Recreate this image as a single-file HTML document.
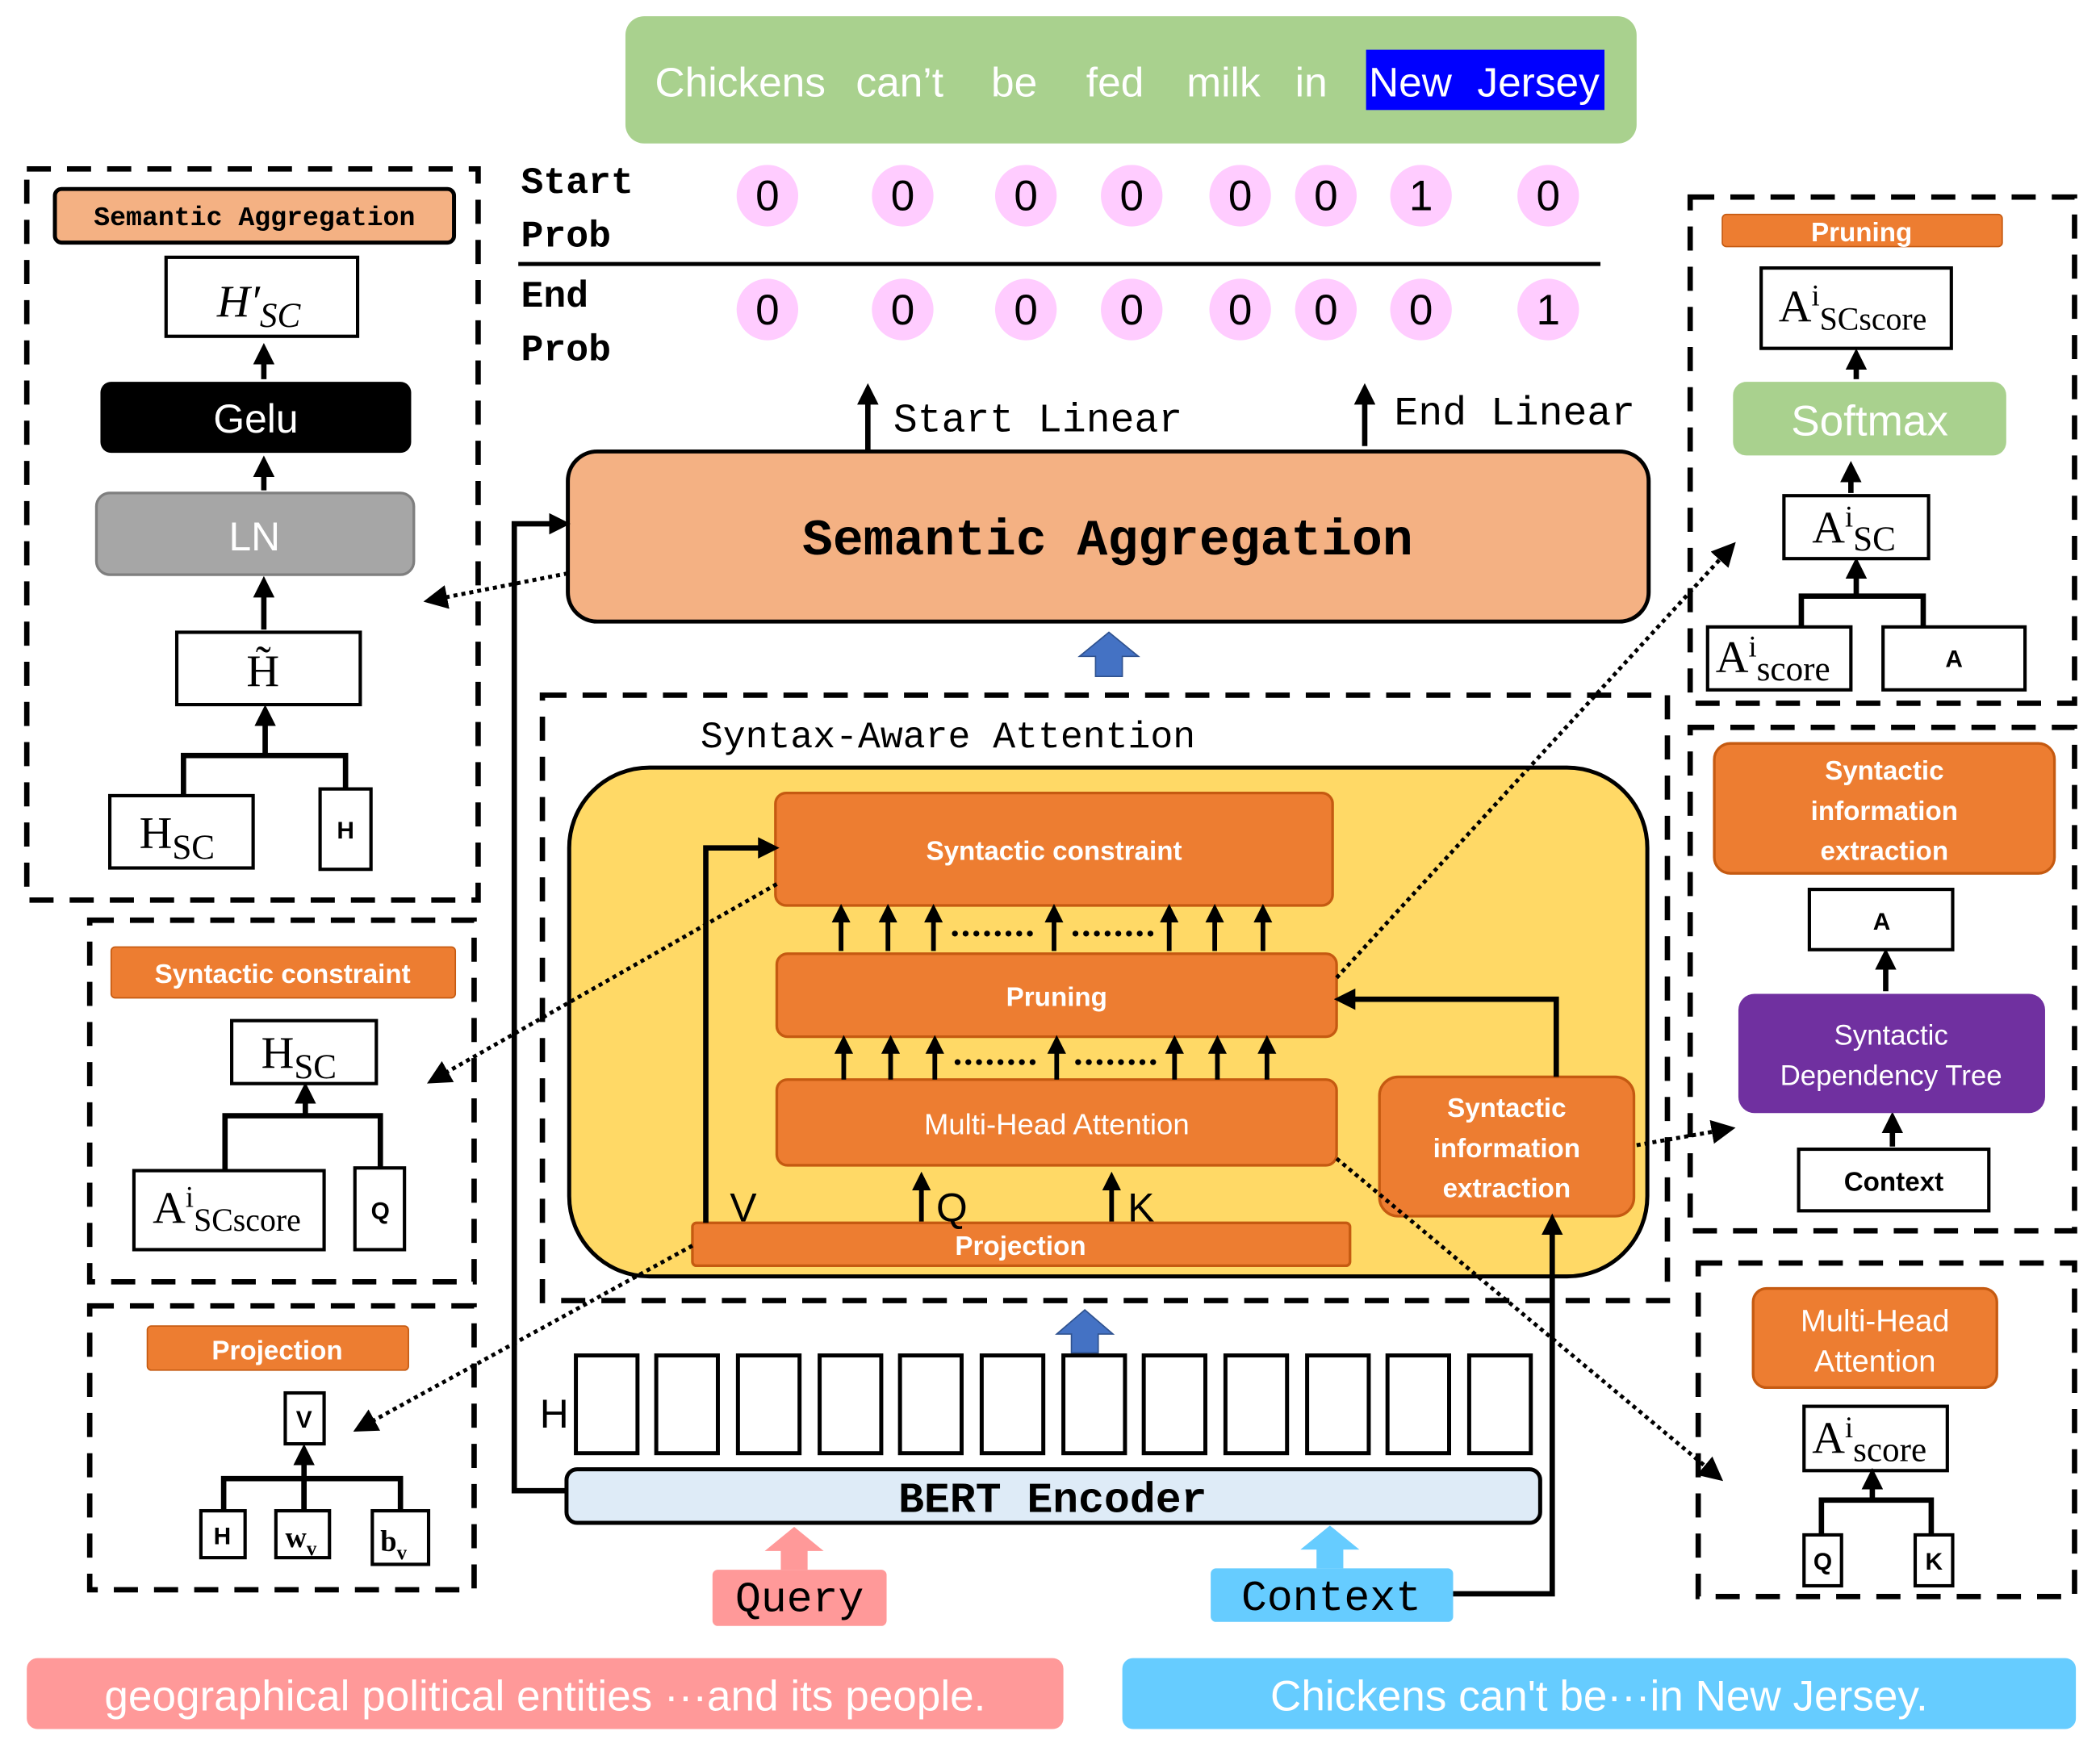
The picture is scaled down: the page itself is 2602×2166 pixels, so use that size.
<!DOCTYPE html>
<html><head><meta charset="utf-8"><style>
html,body{margin:0;padding:0;background:#fff;}
svg{display:block;}
.m{font-family:"Liberation Mono",monospace;}
.s{font-family:"Liberation Sans",sans-serif;}
.r{font-family:"Liberation Serif",serif;}
</style></head><body>
<svg width="2602" height="2166" viewBox="0 0 1568 1305" xmlns="http://www.w3.org/2000/svg">
<defs>
<marker id="a" markerWidth="4" markerHeight="4" refX="2.5" refY="2" orient="auto" markerUnits="strokeWidth"><path d="M0,0 L4,2 L0,4 z" fill="#000"/></marker>
<marker id="d" markerWidth="6" markerHeight="6" refX="4" refY="3" orient="auto" markerUnits="strokeWidth"><path d="M0,0 L6,3 L0,6 z" fill="#000"/></marker>
</defs>
<rect width="1568" height="1305" fill="#fff"/>
<!-- top sentence -->
<rect x="467" y="12" width="755" height="95" rx="14" fill="#a9d18e"/>
<rect x="1020" y="37" width="178" height="45" fill="#0000ff"/>
<g class="s" font-size="31" fill="#fff">
<text x="489" y="72">Chickens</text><text x="639" y="72">can’t</text><text x="740" y="72">be</text><text x="811" y="72">fed</text><text x="886" y="72">milk</text><text x="967" y="72">in</text><text x="1022" y="72">New</text><text x="1103" y="72">Jersey</text>
</g>
<!-- prob rows -->
<g class="m" font-size="28" font-weight="bold">
<text x="389" y="144">Start</text><text x="389" y="184">Prob</text>
<text x="389" y="229">End</text><text x="389" y="269">Prob</text>
</g>
<line x1="387" y1="197" x2="1195" y2="197" stroke="#000" stroke-width="3"/>
<g fill="#ffccff">
<circle cx="573" cy="146" r="23"/><circle cx="674" cy="146" r="23"/><circle cx="766" cy="146" r="23"/><circle cx="845" cy="146" r="23"/><circle cx="926" cy="146" r="23"/><circle cx="990" cy="146" r="23"/><circle cx="1061" cy="146" r="23"/><circle cx="1156" cy="146" r="23"/>
<circle cx="573" cy="231" r="23"/><circle cx="674" cy="231" r="23"/><circle cx="766" cy="231" r="23"/><circle cx="845" cy="231" r="23"/><circle cx="926" cy="231" r="23"/><circle cx="990" cy="231" r="23"/><circle cx="1061" cy="231" r="23"/><circle cx="1156" cy="231" r="23"/>
</g>
<g class="s" font-size="32" text-anchor="middle">
<text x="573" y="157">0</text><text x="674" y="157">0</text><text x="766" y="157">0</text><text x="845" y="157">0</text><text x="926" y="157">0</text><text x="990" y="157">0</text><text x="1061" y="157">1</text><text x="1156" y="157">0</text>
<text x="573" y="242">0</text><text x="674" y="242">0</text><text x="766" y="242">0</text><text x="845" y="242">0</text><text x="926" y="242">0</text><text x="990" y="242">0</text><text x="1061" y="242">0</text><text x="1156" y="242">1</text>
</g>
<line x1="648" y1="336" x2="648" y2="292" stroke="#000" stroke-width="4" marker-end="url(#a)"/>
<text x="667" y="322" class="m" font-size="30">Start Linear</text>
<line x1="1019" y1="333" x2="1019" y2="292" stroke="#000" stroke-width="4" marker-end="url(#a)"/>
<text x="1041" y="317" class="m" font-size="30">End Linear</text>
<!-- semantic aggregation -->
<rect x="424" y="337" width="807" height="127" rx="22" fill="#f4b183" stroke="#000" stroke-width="3"/>
<text x="827" y="414" class="m" font-size="38" font-weight="bold" text-anchor="middle">Semantic Aggregation</text>
<path d="M818,505 V490 H806 L828,472 L850,490 H838 V505 Z" fill="#4472c4" stroke="#2f528f"/>
<!-- syntax aware -->
<rect x="405" y="519" width="840" height="452" fill="none" stroke="#000" stroke-width="4" stroke-dasharray="18,12"/>
<text x="523" y="558" class="m" font-size="28">Syntax-Aware Attention</text>
<rect x="425" y="573" width="805" height="380" rx="60" fill="#ffd966" stroke="#000" stroke-width="3"/>
<g fill="#ed7d31" stroke="#c55a11" stroke-width="2">
<rect x="579" y="592" width="416" height="84" rx="8"/>
<rect x="580" y="712" width="418" height="62" rx="8"/>
<rect x="580" y="806" width="418" height="64" rx="8"/>
<rect x="1030" y="804" width="190" height="104" rx="14"/>
<rect x="517" y="913" width="491" height="32" rx="3"/>
</g>
<g class="s" fill="#fff" text-anchor="middle" font-size="20" font-weight="bold">
<text x="787" y="642">Syntactic constraint</text>
<text x="789" y="751">Pruning</text>
<text x="789" y="847" font-weight="normal" font-size="22">Multi-Head Attention</text>
<text x="1125" y="834">Syntactic</text><text x="1125" y="864">information</text><text x="1125" y="894">extraction</text>
<text x="762" y="937">Projection</text>
</g>
<g stroke="#000" stroke-width="3.5" marker-end="url(#a)">
<line x1="628" y1="710" x2="628" y2="680"/><line x1="663" y1="710" x2="663" y2="680"/><line x1="697" y1="710" x2="697" y2="680"/><line x1="787" y1="710" x2="787" y2="680"/><line x1="873" y1="710" x2="873" y2="680"/><line x1="907" y1="710" x2="907" y2="680"/><line x1="943" y1="710" x2="943" y2="680"/>
<line x1="630" y1="806" x2="630" y2="778"/><line x1="665" y1="806" x2="665" y2="778"/><line x1="698" y1="806" x2="698" y2="778"/><line x1="789" y1="806" x2="789" y2="778"/><line x1="877" y1="806" x2="877" y2="778"/><line x1="909" y1="806" x2="909" y2="778"/><line x1="946" y1="806" x2="946" y2="778"/>
<line x1="688" y1="912" x2="688" y2="880"/><line x1="830" y1="912" x2="830" y2="880"/>
</g>
<g fill="#000">
<g id="dots"><circle cx="713" cy="697" r="2.2"/><circle cx="721" cy="697" r="2.2"/><circle cx="729" cy="697" r="2.2"/><circle cx="737" cy="697" r="2.2"/><circle cx="745" cy="697" r="2.2"/><circle cx="753" cy="697" r="2.2"/><circle cx="761" cy="697" r="2.2"/><circle cx="769" cy="697" r="2.2"/></g>
<use href="#dots" x="90"/><use href="#dots" x="2" y="96"/><use href="#dots" x="92" y="96"/>
</g>
<g class="s" font-size="30"><text x="545" y="912">V</text><text x="699" y="912">Q</text><text x="842" y="912">K</text></g>
<polyline points="527,913 527,633 576,633" fill="none" stroke="#000" stroke-width="4" marker-end="url(#a)"/>
<polyline points="1162,804 1162,746 1002,746" fill="none" stroke="#000" stroke-width="4" marker-end="url(#a)"/>
<polyline points="1085,1190 1159,1190 1159,912" fill="none" stroke="#000" stroke-width="4" marker-end="url(#a)"/>
<polyline points="422,1113 384,1113 384,391 420,391" fill="none" stroke="#000" stroke-width="4" marker-end="url(#a)"/>
<path d="M800,1010 V996 H789 L810,978 L831,996 H820 V1010 Z" fill="#4472c4" stroke="#2f528f"/>
<!-- H boxes -->
<text x="403" y="1066" class="s" font-size="30">H</text>
<g fill="#fff" stroke="#000" stroke-width="3">
<rect x="430" y="1012" width="46" height="73"/><rect x="490" y="1012" width="46" height="73"/><rect x="551" y="1012" width="46" height="73"/><rect x="612" y="1012" width="46" height="73"/><rect x="672" y="1012" width="46" height="73"/><rect x="733" y="1012" width="46" height="73"/><rect x="794" y="1012" width="46" height="73"/><rect x="854" y="1012" width="46" height="73"/><rect x="915" y="1012" width="46" height="73"/><rect x="976" y="1012" width="46" height="73"/><rect x="1036" y="1012" width="46" height="73"/><rect x="1097" y="1012" width="46" height="73"/>
</g>
<rect x="423" y="1097" width="727" height="40" rx="8" fill="#deebf7" stroke="#000" stroke-width="3"/>
<text x="786" y="1129" class="m" font-size="32" font-weight="bold" text-anchor="middle">BERT Encoder</text>
<path d="M583,1172 V1158 H571 L593,1140 L615,1158 H603 V1172 Z" fill="#ff9999"/>
<rect x="532" y="1172" width="130" height="42" rx="4" fill="#ff9999"/>
<text x="597" y="1203" class="m" font-size="32" text-anchor="middle">Query</text>
<path d="M983,1171 V1157 H971 L993,1139 L1015,1157 H1003 V1171 Z" fill="#66ccff"/>
<rect x="904" y="1171" width="181" height="40" rx="4" fill="#66ccff"/>
<text x="994" y="1202" class="m" font-size="32" text-anchor="middle">Context</text>
<rect x="20" y="1238" width="774" height="53" rx="8" fill="#ff9999"/>
<text x="407" y="1277" class="s" font-size="32" fill="#fff" text-anchor="middle">geographical political entities ···and its people.</text>
<rect x="838" y="1238" width="712" height="53" rx="8" fill="#66ccff"/>
<text x="1194" y="1277" class="s" font-size="32" fill="#fff" text-anchor="middle">Chickens can't be···in New Jersey.</text>
<!-- left panels -->
<g fill="none" stroke="#000" stroke-width="4" stroke-dasharray="18,12">
<rect x="20" y="126" width="337" height="546"/>
<rect x="67" y="687" width="287" height="270"/>
<rect x="67" y="975" width="287" height="212"/>
<rect x="1262" y="147" width="287" height="378"/>
<rect x="1262" y="543" width="287" height="376"/>
<rect x="1268" y="943" width="281" height="249"/>
</g>
<rect x="41" y="141" width="298" height="40" rx="5" fill="#f4b183" stroke="#000" stroke-width="3"/>
<text x="190" y="168" class="m" font-size="20" font-weight="bold" text-anchor="middle">Semantic Aggregation</text>
<g fill="#fff" stroke="#000" stroke-width="2.5">
<rect x="124" y="192" width="143" height="59"/>
<rect x="132" y="472" width="137" height="54"/>
<rect x="82" y="594" width="107" height="54"/>
<rect x="239" y="589" width="38" height="60"/>
<rect x="173" y="762" width="108" height="47"/>
<rect x="100" y="874" width="142" height="59"/>
<rect x="265" y="872" width="37" height="61"/>
<rect x="213" y="1040" width="29" height="38"/>
<rect x="150" y="1128" width="33" height="35"/>
<rect x="206" y="1128" width="40" height="35"/>
<rect x="278" y="1128" width="42" height="40"/>
<rect x="1315" y="200" width="142" height="60"/>
<rect x="1332" y="370" width="108" height="47"/>
<rect x="1275" y="468" width="107" height="47"/>
<rect x="1406" y="468" width="106" height="47"/>
<rect x="1351" y="664" width="107" height="45"/>
<rect x="1343" y="858" width="142" height="46"/>
<rect x="1347" y="1050" width="107" height="48"/>
<rect x="1347" y="1146" width="28" height="38"/>
<rect x="1430" y="1146" width="28" height="38"/>
</g>
<rect x="75" y="285" width="232" height="53" rx="8" fill="#000"/>
<text x="191" y="323" class="s" font-size="30" fill="#fff" text-anchor="middle">Gelu</text>
<rect x="72" y="368" width="237" height="61" rx="10" fill="#a6a6a6" stroke="#7f7f7f" stroke-width="2"/>
<text x="190" y="411" class="s" font-size="30" fill="#fff" text-anchor="middle">LN</text>
<g class="r" font-size="34">
<text x="162" y="236" font-style="italic">H′<tspan font-size="26" dy="8">SC</tspan></text>
<text x="184" y="512">H̃</text>
<text x="104" y="633">H<tspan font-size="26" dy="8">SC</tspan></text>
<text x="195" y="797">H<tspan font-size="26" dy="8">SC</tspan></text>
<text x="114" y="913">A<tspan font-size="22" dy="-12">i</tspan><tspan font-size="24" dy="18">SCscore</tspan></text>
<text x="1328" y="240">A<tspan font-size="22" dy="-12">i</tspan><tspan font-size="24" dy="18">SCscore</tspan></text>
<text x="1353" y="405">A<tspan font-size="22" dy="-12">i</tspan><tspan font-size="26" dy="18">SC</tspan></text>
<text x="1281" y="502">A<tspan font-size="22" dy="-12">i</tspan><tspan font-size="26" dy="18">score</tspan></text>
<text x="1353" y="1085">A<tspan font-size="22" dy="-12">i</tspan><tspan font-size="26" dy="18">score</tspan></text>
<text x="213" y="1155" font-size="22" font-weight="bold">w<tspan font-size="15" dy="6">v</tspan></text>
<text x="284" y="1158" font-size="22" font-weight="bold">b<tspan font-size="15" dy="6">v</tspan></text>
</g>
<g class="s" font-size="18" font-weight="bold" text-anchor="middle">
<text x="258" y="626">H</text><text x="284" y="910">Q</text><text x="227" y="1066">V</text><text x="166" y="1153">H</text>
<text x="1459" y="498">A</text><text x="1405" y="694">A</text><text x="1414" y="889" font-size="20">Context</text>
<text x="1361" y="1172">Q</text><text x="1444" y="1172">K</text>
</g>
<!-- panel connectors -->
<g stroke="#000" stroke-width="4" fill="none">
<line x1="197" y1="283" x2="197" y2="262" marker-end="url(#a)"/>
<line x1="197" y1="366" x2="197" y2="346" marker-end="url(#a)"/>
<line x1="197" y1="470" x2="197" y2="436" marker-end="url(#a)"/>
<polyline points="137,594 137,564 258,564 258,589"/><line x1="198" y1="564" x2="198" y2="532" marker-end="url(#a)"/>
<polyline points="168,874 168,833 284,833 284,872"/><line x1="228" y1="833" x2="228" y2="814" marker-end="url(#a)"/>
<polyline points="167,1128 167,1104 299,1104 299,1128"/><line x1="227" y1="1128" x2="227" y2="1084" marker-end="url(#a)"/><line x1="227" y1="1104" x2="227" y2="1128"/>
<line x1="1386" y1="283" x2="1386" y2="266" marker-end="url(#a)"/>
<line x1="1382" y1="368" x2="1382" y2="350" marker-end="url(#a)"/>
<polyline points="1345,468 1345,445 1436,445 1436,468"/><line x1="1386" y1="445" x2="1386" y2="422" marker-end="url(#a)"/>
<line x1="1408" y1="740" x2="1408" y2="714" marker-end="url(#a)"/>
<line x1="1413" y1="856" x2="1413" y2="836" marker-end="url(#a)"/>
<polyline points="1360,1146 1360,1120 1442,1120 1442,1146"/><line x1="1398" y1="1120" x2="1398" y2="1102" marker-end="url(#a)"/>
</g>
<rect x="1286" y="160" width="209" height="24" rx="3" fill="#ed7d31" stroke="#c55a11"/>
<text x="1390" y="180" class="s" font-size="20" font-weight="bold" fill="#fff" text-anchor="middle">Pruning</text>
<rect x="1294" y="285" width="204" height="55" rx="10" fill="#a9d18e"/>
<text x="1396" y="325" class="s" font-size="32" fill="#fff" text-anchor="middle">Softmax</text>
<rect x="83" y="707" width="257" height="38" rx="3" fill="#ed7d31" stroke="#c55a11"/>
<text x="211" y="734" class="s" font-size="20" font-weight="bold" fill="#fff" text-anchor="middle">Syntactic constraint</text>
<rect x="110" y="990" width="195" height="33" rx="3" fill="#ed7d31" stroke="#c55a11"/>
<text x="207" y="1015" class="s" font-size="20" font-weight="bold" fill="#fff" text-anchor="middle">Projection</text>
<rect x="1280" y="555" width="254" height="97" rx="12" fill="#ed7d31" stroke="#c55a11" stroke-width="2"/>
<g class="s" font-size="20" font-weight="bold" fill="#fff" text-anchor="middle"><text x="1407" y="582">Syntactic</text><text x="1407" y="612">information</text><text x="1407" y="642">extraction</text></g>
<rect x="1298" y="742" width="229" height="89" rx="12" fill="#7030a0"/>
<g class="s" font-size="21" fill="#fff" text-anchor="middle"><text x="1412" y="780">Syntactic</text><text x="1412" y="810">Dependency Tree</text></g>
<rect x="1309" y="962" width="182" height="74" rx="10" fill="#ed7d31" stroke="#c55a11" stroke-width="2"/>
<g class="s" font-size="23" fill="#fff" text-anchor="middle"><text x="1400" y="994">Multi-Head</text><text x="1400" y="1024">Attention</text></g>
<!-- dotted -->
<g stroke="#000" stroke-width="3" stroke-dasharray="3,3" fill="none" marker-end="url(#d)">
<line x1="424" y1="428" x2="322" y2="448"/>
<line x1="580" y1="660" x2="324" y2="806"/>
<line x1="517" y1="930" x2="269" y2="1066"/>
<line x1="998" y1="730" x2="1292" y2="409"/>
<line x1="1222" y1="855" x2="1290" y2="843"/>
<line x1="998" y1="865" x2="1282" y2="1102"/>
</g>
</svg>
</body></html>
